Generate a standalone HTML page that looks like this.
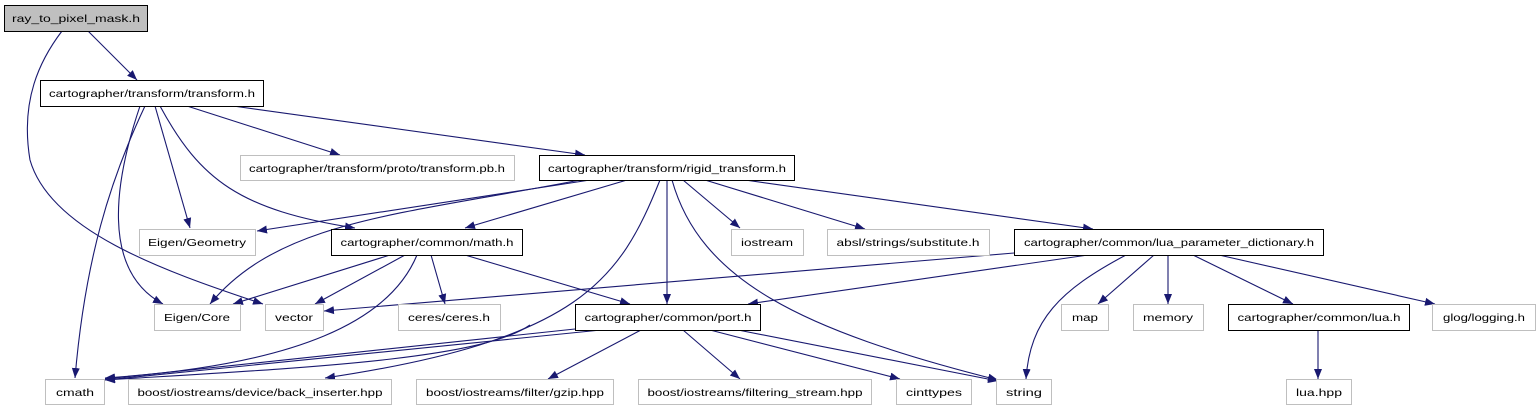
<!DOCTYPE html>
<html><head><meta charset="utf-8"><style>
html,body{margin:0;padding:0;background:#fff;}
svg{display:block;}
text{font-family:"Liberation Sans",sans-serif;font-size:10.5px;fill:#000;}
</style></head><body>
<svg width="1537" height="411" viewBox="0 0 1537 411" xmlns="http://www.w3.org/2000/svg">
<defs>
<marker id="a" viewBox="0 0 10 10" refX="10" refY="5" markerWidth="10" markerHeight="10" markerUnits="userSpaceOnUse" orient="auto">
<path d="M0,1 L10,5 L0,9 z" fill="#191970"/>
</marker>
</defs>
<g fill="none" stroke="#191970" stroke-width="1.1" marker-end="url(#a)">
<path d="M88,31 L137,80"/>
<path d="M62,31 C40,60 20,100 30,160 C50,230 160,270 263,304"/>
<path d="M145,106 C110,180 85,260 75,378"/>
<path d="M140,106 C115,180 100,270 163,304"/>
<path d="M155,106 L190,228"/>
<path d="M160,106 C200,180 240,210 355,228"/>
<path d="M187,106 L340,155"/>
<path d="M233,106 L585,155"/>
<path d="M590,180 L257,231"/>
<path d="M580,180 C400,215 280,220 210,304"/>
<path d="M627,180 L465,228"/>
<path d="M660,180 C620,280 580,340 325,378"/>
<path d="M667,180 L667,304"/>
<path d="M672,180 C700,280 800,330 998,380"/>
<path d="M683,180 L740,228"/>
<path d="M705,180 L865,229"/>
<path d="M745,180 L1093,229"/>
<path d="M390,255 L233,304"/>
<path d="M405,255 L315,304"/>
<path d="M417,255 C390,320 300,365 105,378"/>
<path d="M431,255 L445,304"/>
<path d="M465,255 L630,304"/>
<path d="M1014,253 L324,311"/>
<path d="M1088,255 L748,304"/>
<path d="M1126,255 C1060,290 1030,320 1026,379"/>
<path d="M1154,255 L1098,304"/>
<path d="M1168,255 L1168,304"/>
<path d="M1193,255 L1293,304"/>
<path d="M1219,255 L1435,304"/>
<path d="M1318,330 L1318,379"/>
<path d="M575,329 L105,379"/>
<path d="M601,330 L105,380"/>
<path d="M530,325 C480,360 300,368 105,380"/>
<path d="M641,330 L548,379"/>
<path d="M683,330 L740,379"/>
<path d="M710,330 L900,379"/>
<path d="M738,330 L998,381"/>
</g>
<g stroke-width="1">
<rect x="4.5" y="5.5" width="143" height="26" fill="#bfbfbf" stroke="#000"/>
<rect x="40.5" y="80.5" width="223" height="26" fill="#fff" stroke="#000"/>
<rect x="240.5" y="155.5" width="274" height="25" fill="#fff" stroke="#bfbfbf"/>
<rect x="539.5" y="155.5" width="255" height="25" fill="#fff" stroke="#000"/>
<rect x="139.5" y="229.5" width="116" height="26" fill="#fff" stroke="#bfbfbf"/>
<rect x="331.5" y="229.5" width="191" height="26" fill="#fff" stroke="#000"/>
<rect x="731.5" y="229.5" width="72" height="26" fill="#fff" stroke="#bfbfbf"/>
<rect x="827.5" y="229.5" width="162" height="26" fill="#fff" stroke="#bfbfbf"/>
<rect x="1014.5" y="229.5" width="309" height="26" fill="#fff" stroke="#000"/>
<rect x="154.5" y="304.5" width="86" height="26" fill="#fff" stroke="#bfbfbf"/>
<rect x="265.5" y="304.5" width="58" height="26" fill="#fff" stroke="#bfbfbf"/>
<rect x="398.5" y="304.5" width="102" height="26" fill="#fff" stroke="#bfbfbf"/>
<rect x="575.5" y="304.5" width="185" height="26" fill="#fff" stroke="#000"/>
<rect x="1061.5" y="304.5" width="47" height="26" fill="#fff" stroke="#bfbfbf"/>
<rect x="1133.5" y="304.5" width="70" height="26" fill="#fff" stroke="#bfbfbf"/>
<rect x="1228.5" y="304.5" width="181" height="26" fill="#fff" stroke="#000"/>
<rect x="1432.5" y="304.5" width="103" height="26" fill="#fff" stroke="#bfbfbf"/>
<rect x="45.5" y="379.5" width="59" height="25" fill="#fff" stroke="#bfbfbf"/>
<rect x="128.5" y="379.5" width="263" height="25" fill="#fff" stroke="#bfbfbf"/>
<rect x="416.5" y="379.5" width="197" height="25" fill="#fff" stroke="#bfbfbf"/>
<rect x="638.5" y="379.5" width="233" height="25" fill="#fff" stroke="#bfbfbf"/>
<rect x="896.5" y="379.5" width="75" height="25" fill="#fff" stroke="#bfbfbf"/>
<rect x="996.5" y="379.5" width="55" height="25" fill="#fff" stroke="#bfbfbf"/>
<rect x="1286.5" y="379.5" width="65" height="25" fill="#fff" stroke="#bfbfbf"/>
</g>
<g text-anchor="middle">
<text x="76" y="22" textLength="128" lengthAdjust="spacingAndGlyphs">ray_to_pixel_mask.h</text>
<text x="152" y="97" textLength="206" lengthAdjust="spacingAndGlyphs">cartographer/transform/transform.h</text>
<text x="377" y="172" textLength="256" lengthAdjust="spacingAndGlyphs">cartographer/transform/proto/transform.pb.h</text>
<text x="667" y="172" textLength="238" lengthAdjust="spacingAndGlyphs">cartographer/transform/rigid_transform.h</text>
<text x="197" y="246" textLength="98" lengthAdjust="spacingAndGlyphs">Eigen/Geometry</text>
<text x="427" y="246" textLength="173" lengthAdjust="spacingAndGlyphs">cartographer/common/math.h</text>
<text x="767" y="246" textLength="52" lengthAdjust="spacingAndGlyphs">iostream</text>
<text x="908" y="246" textLength="143" lengthAdjust="spacingAndGlyphs">absl/strings/substitute.h</text>
<text x="1169" y="246" textLength="290" lengthAdjust="spacingAndGlyphs">cartographer/common/lua_parameter_dictionary.h</text>
<text x="197" y="321" textLength="66" lengthAdjust="spacingAndGlyphs">Eigen/Core</text>
<text x="294" y="321" textLength="38" lengthAdjust="spacingAndGlyphs">vector</text>
<text x="449" y="321" textLength="82" lengthAdjust="spacingAndGlyphs">ceres/ceres.h</text>
<text x="668" y="321" textLength="167" lengthAdjust="spacingAndGlyphs">cartographer/common/port.h</text>
<text x="1085" y="321" textLength="26" lengthAdjust="spacingAndGlyphs">map</text>
<text x="1168" y="321" textLength="50" lengthAdjust="spacingAndGlyphs">memory</text>
<text x="1319" y="321" textLength="163" lengthAdjust="spacingAndGlyphs">cartographer/common/lua.h</text>
<text x="1484" y="321" textLength="82" lengthAdjust="spacingAndGlyphs">glog/logging.h</text>
<text x="75" y="396" textLength="38" lengthAdjust="spacingAndGlyphs">cmath</text>
<text x="260" y="396" textLength="245" lengthAdjust="spacingAndGlyphs">boost/iostreams/device/back_inserter.hpp</text>
<text x="515" y="396" textLength="178" lengthAdjust="spacingAndGlyphs">boost/iostreams/filter/gzip.hpp</text>
<text x="755" y="396" textLength="215" lengthAdjust="spacingAndGlyphs">boost/iostreams/filtering_stream.hpp</text>
<text x="934" y="396" textLength="56" lengthAdjust="spacingAndGlyphs">cinttypes</text>
<text x="1024" y="396" textLength="36" lengthAdjust="spacingAndGlyphs">string</text>
<text x="1319" y="396" textLength="46" lengthAdjust="spacingAndGlyphs">lua.hpp</text>
</g>
</svg>
</body></html>
